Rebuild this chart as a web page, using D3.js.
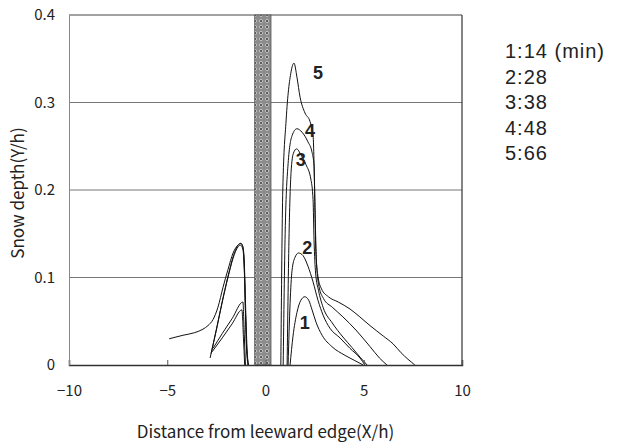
<!DOCTYPE html>
<html lang="en">
<head>
<meta charset="UTF-8">
<title>Snow depth around fence</title>
<script src="https://d3js.org/d3.v7.min.js"></script>
<style>
    body, html {
        margin: 0;
        padding: 0;
        background: #ffffff;
    }
    svg text {
        font-family: "Noto Sans CJK JP", "DejaVu Sans", sans-serif;
        fill: #222;
    }
    .num {
        font-family: "Liberation Sans", Arial, sans-serif;
        font-weight: bold;
    }
    .legend text {
        font-family: "Liberation Sans", Arial, sans-serif;
        letter-spacing: 1px;
    }
</style>
</head>
<body>
<div id="chart"></div>
<script>
// axis ticks
const xTicks = [-10, -5, 0, 5, 10];
const yTicks = [0, 0.1, 0.2, 0.3, 0.4];
const fence = [-0.55, 0.28];
const legendLabels = ["1:14 (min)", "2:28", "3:38", "4:48", "5:66"];

// windward drifts [X/h, Y/h]
const windward1 = [[-2.72, 0.015], [-2.2, 0.031], [-1.7, 0.047], [-1.2, 0.063], [-1.12, 0.03], [-1.06, 0]];
const windward2 = [[-2.67, 0.019], [-2.2, 0.036], [-1.7, 0.053], [-1.15, 0.072], [-1.08, 0.035], [-1.02, 0]];
const windward3 = [[-2.82, 0.008], [-2.5, 0.04], [-2.2, 0.072], [-1.91, 0.1], [-1.65, 0.122], [-1.4, 0.135], [-1.27, 0.137], [-1.15, 0.132], [-1.08, 0.11], [-1.02, 0.06], [-0.95, 0.015], [-0.9, 0]];
const windward4 = [[-2.77, 0.013], [-2.45, 0.046], [-2.15, 0.078], [-1.88, 0.104], [-1.63, 0.125], [-1.4, 0.137], [-1.26, 0.139], [-1.14, 0.134], [-1.07, 0.112], [-1.01, 0.065], [-0.93, 0.015], [-0.87, 0]];
const windward5 = [[-4.9, 0.03], [-4.2, 0.034], [-3.6, 0.037], [-3.18, 0.041], [-2.93, 0.045], [-2.67, 0.052], [-2.42, 0.066], [-2.16, 0.089], [-1.91, 0.109], [-1.65, 0.128], [-1.4, 0.137], [-1.25, 0.139], [-1.15, 0.135], [-1.09, 0.117], [-1.03, 0.071], [-0.97, 0.021], [-0.86, 0]];

// leeward drifts [X/h, Y/h]
const leeward1 = [[1.25, 0], [1.4, 0.033], [1.6, 0.06], [1.8, 0.074], [2.0, 0.078], [2.2, 0.074], [2.37, 0.063], [2.57, 0.049], [2.88, 0.034], [3.38, 0.021], [4.05, 0.011], [4.55, 0.005], [4.97, 0]];
const leeward2 = [[1.15, 0], [1.25, 0.07], [1.35, 0.108], [1.5, 0.123], [1.68, 0.128], [1.91, 0.125], [2.16, 0.113], [2.42, 0.095], [2.67, 0.074], [2.93, 0.057], [3.28, 0.042], [3.79, 0.031], [4.3, 0.019], [4.81, 0.008], [5.06, 0]];
const leeward3 = [[1.1, 0], [1.2, 0.15], [1.3, 0.22], [1.42, 0.242], [1.58, 0.247], [1.81, 0.24], [2.06, 0.229], [2.32, 0.211], [2.42, 0.189], [2.47, 0.143], [2.55, 0.105], [2.7, 0.085], [2.93, 0.066], [3.4, 0.048], [3.94, 0.032], [4.4, 0.02], [4.81, 0.009], [5.17, 0]];
const leeward4 = [[0.9, 0], [1.0, 0.15], [1.15, 0.23], [1.35, 0.262], [1.6, 0.27], [1.86, 0.266], [2.16, 0.255], [2.37, 0.243], [2.47, 0.228], [2.52, 0.177], [2.6, 0.115], [2.72, 0.09], [2.95, 0.076], [3.4, 0.066], [3.94, 0.055], [4.6, 0.04], [5.32, 0.021], [5.8, 0.008], [6.18, 0]];
const leeward5 = [[0.78, 0], [0.88, 0.2], [1.05, 0.28], [1.3, 0.335], [1.45, 0.345], [1.6, 0.329], [1.76, 0.306], [2.01, 0.288], [2.27, 0.278], [2.42, 0.263], [2.5, 0.2], [2.56, 0.13], [2.68, 0.1], [2.85, 0.087], [3.2, 0.078], [3.7, 0.072], [4.3, 0.064], [4.8, 0.055], [5.32, 0.045], [6.0, 0.033], [6.5, 0.024], [6.9, 0.014], [7.6, 0]];

// curve number labels [X/h, Y/h, text]
const curveLabels = [[2.0, 0.048, "1"], [2.12, 0.134, "2"], [1.8, 0.234, "3"], [2.27, 0.268, "4"], [2.67, 0.334, "5"]];

const width = 620, height = 448;
const margin = {left: 69, right: 158, top: 15, bottom: 83};

const svg = d3.select("#chart").append("svg")
    .attr("width", width)
    .attr("height", height);

const x = d3.scaleLinear().domain([-10, 10]).range([margin.left, width - margin.right]);
const y = d3.scaleLinear().domain([0, 0.4]).range([height - margin.bottom, margin.top]);

// stipple pattern for the fence
const defs = svg.append("defs");
const pat = defs.append("pattern")
    .attr("id", "stipple")
    .attr("patternUnits", "userSpaceOnUse")
    .attr("width", 6)
    .attr("height", 6);
pat.append("rect").attr("width", 6).attr("height", 6).attr("fill", "#8c8c8c");
pat.append("circle").attr("cx", 3).attr("cy", 3).attr("r", 1.5)
    .attr("fill", "#333").attr("stroke", "#e0e0e0").attr("stroke-width", 0.8);

// gridlines
svg.append("g")
    .selectAll("line")
    .data(yTicks.filter(d => d > 0))
    .enter().append("line")
    .attr("x1", x(-10)).attr("x2", x(10))
    .attr("y1", d => y(d)).attr("y2", d => y(d))
    .attr("stroke", d => d === 0.4 ? "#444" : "#777")
    .attr("stroke-width", 1);

// right border
svg.append("line")
    .attr("x1", x(10)).attr("x2", x(10))
    .attr("y1", y(0.4)).attr("y2", y(0))
    .attr("stroke", "#333").attr("stroke-width", 1.2);

// fence
svg.append("rect")
    .attr("x", x(fence[0]))
    .attr("y", y(0.4))
    .attr("width", x(fence[1]) - x(fence[0]))
    .attr("height", y(0) - y(0.4))
    .attr("fill", "url(#stipple)")
    .attr("stroke", "#555")
    .attr("stroke-width", 0.8);

// drift lines
const line = d3.line()
    .x(d => x(d[0]))
    .y(d => y(d[1]))
    .curve(d3.curveMonotoneX);

const allCurves = [windward1, windward2, windward3, windward4, windward5,
                   leeward1, leeward2, leeward3, leeward4, leeward5];

svg.append("g")
    .selectAll("path")
    .data(allCurves)
    .enter().append("path")
    .attr("d", line)
    .attr("fill", "none")
    .attr("stroke", "#111")
    .attr("stroke-width", 1);

// axes
const xAxis = svg.append("g")
    .attr("transform", `translate(0,${y(0)})`)
    .call(d3.axisBottom(x).tickValues(xTicks).tickSize(-5).tickPadding(20)
        .tickFormat(d => d < 0 ? "\u2212" + Math.abs(d) : d));
xAxis.select(".domain").attr("stroke", "#333").attr("stroke-width", 1.5);
xAxis.selectAll(".tick line").attr("stroke", "#555");
xAxis.selectAll("text").attr("font-size", 15).attr("fill", "#222");

const yAxis = svg.append("g")
    .attr("transform", `translate(${x(-10)},0)`)
    .call(d3.axisLeft(y).tickValues(yTicks).tickSize(0).tickPadding(14)
        .tickFormat(d => d === 0 ? "0" : d3.format(".1f")(d)));
yAxis.select(".domain").attr("stroke", "#888").attr("stroke-width", 1);
yAxis.selectAll("text").attr("font-size", 15).attr("fill", "#222");

// axis titles
svg.append("text")
    .attr("x", x(0))
    .attr("y", 438)
    .attr("text-anchor", "middle")
    .attr("font-size", 17)
    .text("Distance from leeward edge(X/h)");

svg.append("text")
    .attr("transform", `translate(24,${(y(0) + y(0.4)) / 2 + 3}) rotate(-90)`)
    .attr("text-anchor", "middle")
    .attr("font-size", 17)
    .text("Snow depth(Y/h)");

// curve numbers
svg.append("g")
    .selectAll("text")
    .data(curveLabels)
    .enter().append("text")
    .attr("class", "num")
    .attr("x", d => x(d[0]))
    .attr("y", d => y(d[1]))
    .attr("text-anchor", "middle")
    .attr("dominant-baseline", "central")
    .attr("font-size", 18)
    .text(d => d[2]);

// legend
svg.append("g")
    .attr("class", "legend")
    .selectAll("text")
    .data(legendLabels)
    .enter().append("text")
    .attr("x", 505)
    .attr("y", (d, i) => 58 + i * 25.5)
    .attr("font-size", 20)
    .text(d => d);
</script>
</body>
</html>
